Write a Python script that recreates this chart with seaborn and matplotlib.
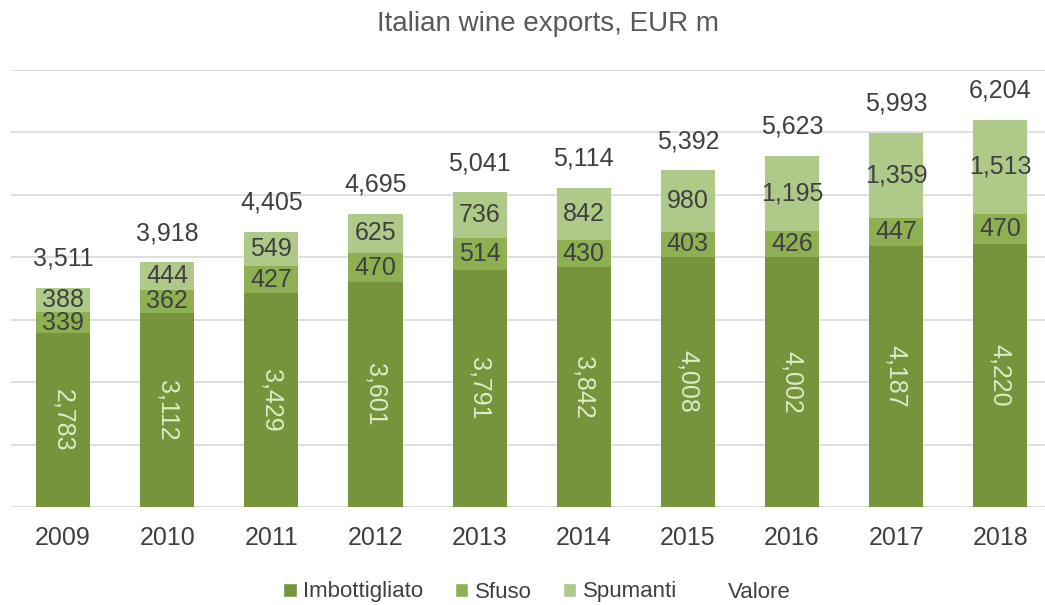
import matplotlib
matplotlib.use("Agg")
import matplotlib.pyplot as plt
from matplotlib.patches import Patch
import numpy as np
import pandas as pd
import seaborn as sns

years = ["2009", "2010", "2011", "2012", "2013", "2014", "2015", "2016", "2017", "2018"]
imbottigliato = [2783, 3112, 3429, 3601, 3791, 3842, 4008, 4002, 4187, 4220]
sfuso = [339, 362, 427, 470, 514, 430, 403, 426, 447, 470]
spumanti = [388, 444, 549, 625, 736, 842, 980, 1195, 1359, 1513]
valore = [3511, 3918, 4405, 4695, 5041, 5114, 5392, 5623, 5993, 6204]

c_imb = "#77933C"
c_sfu = "#8FB052"
c_spu = "#AFCA88"
txt = "#404040"

sns.set_theme(style="white")
narrow = ["Liberation Sans Narrow", "Liberation Sans", "DejaVu Sans"]
plt.rcParams["font.family"] = ["Liberation Sans", "DejaVu Sans"]

df = pd.DataFrame({"year": years, "imb": imbottigliato, "sfu": sfuso, "spu": spumanti})
df["imb_sfu"] = df["imb"] + df["sfu"]
df["total"] = df["imb_sfu"] + df["spu"]

fig = plt.figure(figsize=(10.45, 6.05), dpi=100)
ax = fig.add_axes([11 / 1045, 98 / 605, 1034 / 1045, 437 / 605])

w = 0.52
# Overlapping bars from the full stack down give the stacked look
sns.barplot(data=df, x="year", y="total", color=c_spu, width=w, saturation=1,
            linewidth=0, ax=ax)
sns.barplot(data=df, x="year", y="imb_sfu", color=c_sfu, width=w, saturation=1,
            linewidth=0, ax=ax)
sns.barplot(data=df, x="year", y="imb", color=c_imb, width=w, saturation=1,
            linewidth=0, ax=ax)

ax.set_ylim(0, 7000)
ax.set_xlim(-0.5, 9.43)
ax.set_yticks(np.arange(0, 7001, 1000))
ax.yaxis.grid(True, color="#D9D9D9", linewidth=1.2)
ax.set_axisbelow(True)
for s in ax.spines.values():
    s.set_visible(False)
ax.set_yticklabels([])
ax.tick_params(axis="y", length=0)
ax.tick_params(axis="x", length=0, pad=14)
ax.set_xlabel("")
ax.set_ylabel("")
for lab in ax.get_xticklabels():
    lab.set_family(narrow)
    lab.set_fontsize(18)
    lab.set_color(txt)

fmt = lambda v: f"{v:,}"
fs = 18
for i in range(len(years)):
    imb, sfu, spu, tot = imbottigliato[i], sfuso[i], spumanti[i], valore[i]
    ax.text(i, imb / 2, fmt(imb), rotation=270, ha="center", va="center",
            fontsize=fs, color="#DDEBC8")
    ax.text(i, imb + sfu / 2, fmt(sfu), ha="center", va="center", fontsize=fs, color=txt)
    ax.text(i, imb + sfu + spu / 2, fmt(spu), ha="center", va="center", fontsize=fs, color=txt)
    ax.annotate(fmt(tot), (i, imb + sfu + spu), xytext=(0, 21), textcoords="offset points",
                ha="center", va="center", fontsize=fs, color=txt)

fig.text(548 / 1045, 1 - 24 / 605, "Italian wine exports, EUR m", ha="center", va="center",
         fontsize=20, color="#595959", family=narrow)

handles = [Patch(facecolor=c_imb), Patch(facecolor=c_sfu), Patch(facecolor=c_spu),
           Patch(facecolor="none", edgecolor="none")]
leg = fig.legend(handles, ["Imbottigliato", "Sfuso", "Spumanti", "Valore"],
                 loc="center", bbox_to_anchor=(537 / 1045, 1 - 592 / 605), ncol=4,
                 frameon=False, handlelength=0.6, handleheight=0.6, handletextpad=0.3,
                 columnspacing=1.4, prop={"family": narrow, "size": 16})
for t in leg.get_texts():
    t.set_color(txt)

fig.savefig("out.png", dpi=100)
